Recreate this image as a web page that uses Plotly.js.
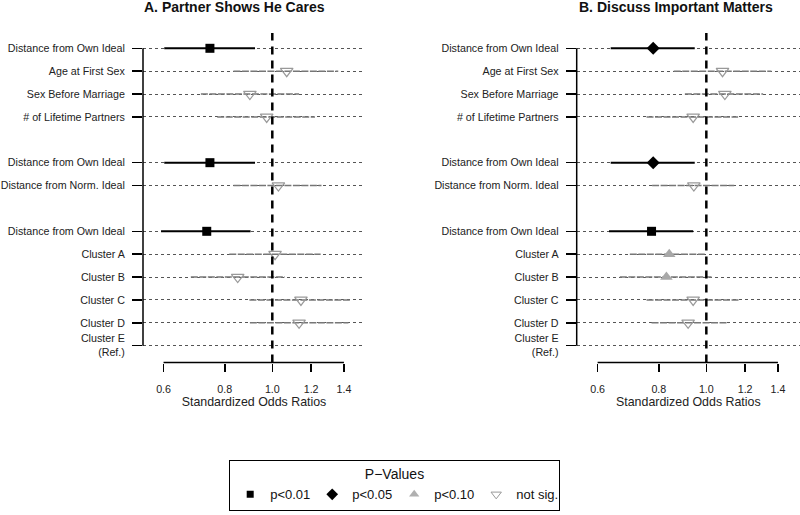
<!DOCTYPE html>
<html><head><meta charset="utf-8">
<script src="https://cdn.plot.ly/plotly-3.0.1.min.js"></script>
<style>html,body{margin:0;padding:0;background:#fff}</style>
</head><body><div id="chart" style="width:800px;height:515px"></div>
<script>
// ---- data ----
const model1Terms = ['Distance from Own Ideal', 'Age at First Sex', 'Sex Before Marriage', '# of Lifetime Partners'];
const model2Terms = ['Distance from Own Ideal', 'Distance from Norm. Ideal'];
const model3Terms = ['Distance from Own Ideal', 'Cluster A', 'Cluster B', 'Cluster C', 'Cluster D', 'Cluster E<br>(Ref.)'];

const panelTitles = ['A. Partner Shows He Cares', 'B. Discuss Important Matters'];
const xAxisTitle = 'Standardized Odds Ratios';
const xTickVals = [0.6, 0.8, 1.0, 1.2, 1.4];
const xTickText = ['0.6', '0.8', '1.0', '1.2', '1.4'];

const orA = [0.746, 1.070, 0.900, 0.974, 0.746, 1.029, 0.735, 1.013, 0.850, 1.144, 1.134, null];
const loA = [0.602, 0.833, 0.715, 0.772, 0.602, 0.833, 0.593, 0.817, 0.682, 0.898, 0.900, null];
const hiA = [0.922, 1.363, 1.134, 1.222, 0.922, 1.260, 0.903, 1.255, 1.061, 1.440, 1.430, null];
const sigA = ['p01', 'ns', 'ns', 'ns', 'p01', 'ns', 'p01', 'ns', 'ns', 'ns', 'ns', null];

const orB = [0.779, 1.079, 1.091, 0.940, 0.779, 0.943, 0.773, 0.840, 0.829, 0.940, 0.918, null];
const loB = [0.638, 0.858, 0.904, 0.755, 0.638, 0.775, 0.633, 0.698, 0.666, 0.755, 0.773, null];
const hiB = [0.947, 1.358, 1.306, 1.161, 0.947, 1.140, 0.940, 0.993, 1.025, 1.170, 1.108, null];
const sigB = ['p05', 'ns', 'ns', 'ns', 'p05', 'ns', 'p01', 'p10', 'p10', 'ns', 'ns', null];

const sigCats = ['p01', 'p05', 'p10', 'ns'];
const sigNames = ['p<0.01', 'p<0.05', 'p<0.10', 'not sig.'];
const legendTitle = 'P\u2212Values';

// ---- styles ----
const FONT = 'Liberation Sans, Arial, Helvetica, sans-serif';
const markerStyle = {
  p01: {symbol: 'square', size: 9, color: '#000'},
  p05: {symbol: 'diamond', size: 10, color: '#000'},
  p10: {symbol: 'triangle-up', size: 11, color: '#a8a8a8'},
  ns:  {symbol: 'triangle-down-open', size: 11, color: '#999', line: {width: 1.2}}
};
const legendMarker = {
  p01: {symbol: 'square', size: 7, color: '#000'},
  p05: {symbol: 'diamond', size: 9, color: '#000'},
  p10: {symbol: 'triangle-up', size: 9, color: '#b0b0b0'},
  ns:  {symbol: 'triangle-down-open', size: 9, color: '#999', line: {width: 1}}
};

// row positions: one blank row between model blocks
const termLabels = [], rowPos = [];
let p = 1;
[model1Terms, model2Terms, model3Terms].forEach(block => {
  block.forEach(t => { termLabels.push(t); rowPos.push(p++); });
  p++;
});

const traces = [];
function addPanel(or, lo, hi, sig, xa, ya) {
  // CI lines
  const solid = {x: [], y: []}, grey = {x: [], y: []};
  or.forEach((v, i) => {
    if (v == null) return;
    const g = (sig[i] === 'p01' || sig[i] === 'p05') ? solid : grey;
    g.x.push(lo[i], hi[i], null);
    g.y.push(rowPos[i], rowPos[i], null);
  });
  traces.push({type: 'scatter', mode: 'lines', x: solid.x, y: solid.y, xaxis: xa, yaxis: ya,
    line: {color: '#000', width: 2}, showlegend: false, hoverinfo: 'skip'});
  traces.push({type: 'scatter', mode: 'lines', x: grey.x, y: grey.y, xaxis: xa, yaxis: ya,
    line: {color: '#777', width: 1.6, dash: '7px,1.5px'}, showlegend: false, hoverinfo: 'skip'});
  // markers by significance
  sigCats.forEach((c, k) => {
    const xs = [], ys = [];
    or.forEach((v, i) => { if (v != null && sig[i] === c) { xs.push(v); ys.push(rowPos[i]); } });
    if (!xs.length) return;
    traces.push({type: 'scatter', mode: 'markers', x: xs, y: ys, xaxis: xa, yaxis: ya,
      name: sigNames[k], showlegend: false, legendgroup: c,
      marker: markerStyle[c], cliponaxis: false});
  });
}
addPanel(orA, loA, hiA, sigA, 'x', 'y');
addPanel(orB, loB, hiB, sigB, 'x2', 'y2');
// legend entries (one per significance level)
sigCats.forEach((c, k) => {
  traces.push({type: 'scatter', mode: 'markers', x: [null], y: [null], xaxis: 'x', yaxis: 'y',
    name: sigNames[k], legendrank: k + 1, legendgroup: c, showlegend: true, marker: legendMarker[c]});
});

const W = 800, H = 515;
const yTop = 33, yBot = 362.5;
const rowFirst = rowPos[0], rowLast = rowPos[rowPos.length - 1];

function xAxis(domPx, rangeVals) {
  return {
    type: 'log', domain: [domPx[0] / W, domPx[1] / W],
    range: [Math.log10(rangeVals[0]), Math.log10(rangeVals[1])],
    tickvals: xTickVals, ticktext: xTickText,
    ticks: 'outside', ticklen: 8, tickwidth: 1.5, tickcolor: '#000',
    showgrid: false, zeroline: false, showline: false,
    tickfont: {family: FONT, size: 10.7, color: '#222'},
    ticklabelstandoff: 9,
    title: {text: xAxisTitle, font: {family: FONT, size: 12.4, color: '#222'}, standoff: 2}
  };
}
function yAxis(anchor) {
  return {
    anchor: anchor, domain: [1 - yBot / H, 1 - yTop / H], range: [14.735, 0.331],
    tickvals: rowPos, ticktext: termLabels,
    ticks: 'outside', ticklen: 10, tickwidth: 1.5, tickcolor: '#000',
    showgrid: true, gridcolor: '#555', griddash: 'dot', gridwidth: 1,
    zeroline: false, showline: false,
    tickfont: {family: FONT, size: 10.7, color: '#222'},
    ticklabelstandoff: 5
  };
}

const shapes = [];
[['x', 'y'], ['x2', 'y2']].forEach(([xa, ya]) => {
  shapes.push({type: 'line', xref: xa + ' domain', yref: ya, x0: 0, x1: 0, y0: rowFirst, y1: rowLast,
    line: {color: '#000', width: 1.5}});
  shapes.push({type: 'line', xref: xa, yref: ya + ' domain', x0: xTickVals[0], x1: xTickVals[xTickVals.length - 1], y0: 0, y1: 0,
    line: {color: '#000', width: 1.5}});
  shapes.push({type: 'line', xref: xa, yref: ya + ' domain', x0: 1, x1: 1, y0: 0, y1: 1,
    line: {color: '#000', width: 2.5, dash: '8px,6px'}});
});

const layout = {
  width: W, height: H, autosize: false,
  margin: {l: 0, r: 0, t: 0, b: 0},
  paper_bgcolor: '#fff', plot_bgcolor: '#fff',
  font: {family: FONT, color: '#222'},
  showlegend: true,
  xaxis: Object.assign(xAxis([143, 365], [0.5448, 1.5456]), {anchor: 'y'}),
  yaxis: yAxis('x'),
  xaxis2: Object.assign(xAxis([576.7, 800], [0.5438, 1.553]), {anchor: 'y2'}),
  yaxis2: yAxis('x2'),
  shapes: shapes,
  annotations: [
    {text: '<b>' + panelTitles[0] + '</b>', xref: 'paper', yref: 'paper', x: 234 / W, y: 1 - 7.5 / H,
      xanchor: 'center', yanchor: 'middle', showarrow: false, font: {family: FONT, size: 14, color: '#111'}},
    {text: '<b>' + panelTitles[1] + '</b>', xref: 'paper', yref: 'paper', x: 675.7 / W, y: 1 - 7.5 / H,
      xanchor: 'center', yanchor: 'middle', showarrow: false, font: {family: FONT, size: 14, color: '#111'}}
  ],
  legend: {
    orientation: 'h', x: 229 / W, xanchor: 'left', y: 1 - 460 / H, yanchor: 'top',
    bordercolor: '#000', borderwidth: 1.2, bgcolor: '#fff',
    entrywidth: 37, entrywidthmode: 'pixels',
    title: {text: legendTitle, side: 'top center', font: {family: FONT, size: 14, color: '#111'}},
    font: {family: FONT, size: 13, color: '#111'},
    traceorder: 'normal', itemclick: false, itemdoubleclick: false
  }
};

Plotly.newPlot('chart', traces, layout, {staticPlot: true, displayModeBar: false});
</script>
</body></html>
